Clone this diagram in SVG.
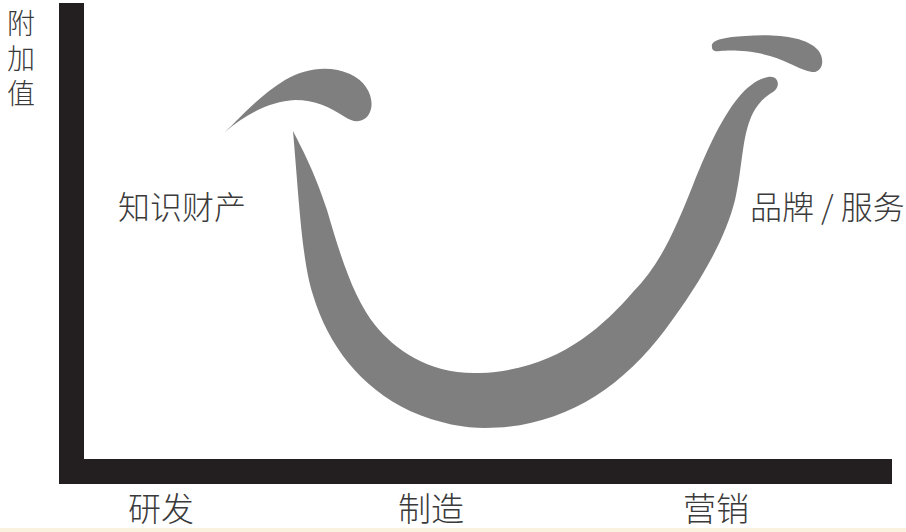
<svg xmlns="http://www.w3.org/2000/svg" width="906" height="532" viewBox="0 0 906 532">
<style>
.lbl{font-family:"Noto Sans CJK SC","Noto Sans",sans-serif;font-weight:300;fill:#3a3a3a}
.shape{fill:#7f7f80}
.axis{fill:#231f20}
</style>
<rect x="0" y="0" width="906" height="532" fill="#ffffff"/>
<rect x="0" y="528" width="906" height="4" fill="#fbf1df"/>
<g id="axes">
<rect class="axis" x="59" y="3" width="25" height="481"/>
<rect class="axis" x="59" y="459" width="833" height="25"/>
</g>
<g id="y-label">
<text class="lbl" x="21" y="9" font-size="28" writing-mode="vertical-rl" letter-spacing="7">附加值</text>
</g>
<g id="smile">
<path class="shape" d="M293,131 C299,200 302,262 313,295 C328,345 360,387 410,411 C440,424 465,428 485,428 C560,428 620,390 665,330 C700,283 725,240 735,200 C742,170 742,140 750,120 C756,104 766,96 773,92 C781,87 779,75 768,77 C758,79 748,86 738,98 C720,120 705,155 693,185 C675,230 660,265 633,292 C600,330 555,370 480,373 C430,375 395,350 375,325 C355,300 342,262 327,210 C314,170 300,145 293,131 Z"/>
</g>
<g id="left-brow">
<path class="shape" d="M225,132 C240,118 260,95 285,80 C305,68 330,65 350,74 C368,82 375,100 370,112 C366,122 355,124 345,117 C330,107 315,100 295,100 C270,101 245,115 225,132 Z"/>
</g>
<g id="right-brow">
<path class="shape" d="M712,47 C710,40 725,37 745,36 C775,34 805,36 818,50 C826,60 822,73 812,72 C800,70 790,62 770,56 C750,50 730,50 720,51 C714,52 712,50 712,47 Z"/>
</g>
<g id="label-ip"><text class="lbl" x="118" y="219" font-size="32">知识财产</text></g>
<g id="label-brand"><text class="lbl" x="750" y="219" font-size="32">品牌 / 服务</text></g>
<g id="label-rd"><text class="lbl" x="128" y="521" font-size="33">研发</text></g>
<g id="label-mfg"><text class="lbl" x="398" y="521" font-size="33">制造</text></g>
<g id="label-mkt"><text class="lbl" x="683" y="521" font-size="33">营销</text></g>
</svg>
